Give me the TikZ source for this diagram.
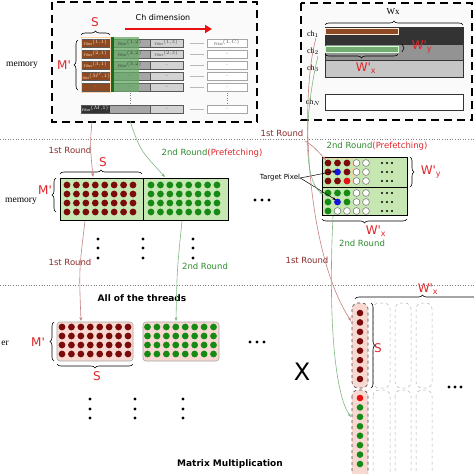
\documentclass[tikz,border=0pt]{standalone}
\usepackage{fontspec}
\setmainfont{Liberation Serif}
\setsansfont{DejaVu Sans}
\usetikzlibrary{decorations.pathreplacing,arrows.meta,calc}
\definecolor{dred}{HTML}{7B0A0A}
\definecolor{dgreen}{HTML}{158A15}
\definecolor{lgfill}{HTML}{C6E6B2}
\definecolor{pinkfill}{HTML}{F7D9D2}
\definecolor{lblred}{HTML}{E0252A}
\definecolor{rtxtc}{HTML}{8A2A2A}
\definecolor{gtxtc}{HTML}{2E8B2E}
\definecolor{brownc}{HTML}{8E4A22}
\definecolor{redline}{HTML}{C58080}
\definecolor{greenline}{HTML}{80B880}
\definecolor{brightred}{HTML}{E81010}
\definecolor{bluedot}{HTML}{1414E0}
\newcommand{\pr}{\textquotesingle}
\begin{document}
\begin{tikzpicture}[x=1pt,y=-1pt,
 dbox/.style={draw=black, line width=2.4pt, dash pattern=on 8pt off 5pt},
 brc/.style={decorate, decoration={brace, amplitude=4pt}, draw=black, line width=0.6pt},
 lbl/.style={text=lblred, font=\sffamily\fontsize{12}{12}\selectfont, inner sep=0pt},
 rtxt/.style={text=rtxtc, font=\sffamily\fontsize{8.5}{9}\selectfont, inner sep=0pt},
 gtxt/.style={text=gtxtc, font=\sffamily\fontsize{8.5}{9}\selectfont, inner sep=0pt},
 serif/.style={font=\rmfamily\fontsize{9.5}{10}\selectfont, inner sep=0pt},
 chl/.style={font=\rmfamily\fontsize{8}{9}\selectfont, inner sep=0pt},
 boldt/.style={font=\sffamily\bfseries\fontsize{9}{10}\selectfont, inner sep=0pt},
 rconn/.style={draw=redline, line width=0.6pt, -{Stealth[length=4pt,width=3pt]}},
 gconn/.style={draw=greenline, line width=0.6pt, -{Stealth[length=4pt,width=3pt]}},
 kconn/.style={draw=black, line width=0.5pt, -{Stealth[length=3.5pt,width=2.5pt]}},
 cell/.style={draw=black!65, line width=0.4pt},
 tinyt/.style={font=\rmfamily\fontsize{4}{4}\selectfont, inner sep=0pt},
 gcaps/.style={draw=gray!60, dashed, line width=0.5pt, rounded corners=6pt},
 rcaps/.style={draw=black!70, dashed, line width=0.6pt, fill=pinkfill, rounded corners=6pt},
 sep/.style={draw=gray, dotted, line width=0.6pt}
]
\useasboundingbox (0,0) rectangle (474,474);
\fill[white] (0,0) rectangle (474,474);

% ---------------- top left box -----------------
\draw[dbox, fill=gray!4] (52,2) rectangle (257,122);
\node[serif] (mem1) at (22,65) {memory};
\node[lbl] (s1) at (95,22) {S};
\draw[brc] (81,35) -- (110,35);
\node[lbl] (m1) at (64,65) {M\pr};
\draw[brc] (78,90) -- (78,40);
\node[font=\sffamily\fontsize{8}{9}\selectfont, inner sep=0pt] (chdim) at (163,18) {Ch dimension};
\coordinate (cha) at (125,29);
\coordinate (chb) at (212,29);
\draw[brightred, line width=2pt, -{Triangle[length=7pt,width=8pt]}] (cha) -- (chb);

\foreach \t/\ta/\tb/\tc/\td in {39/{Filter$^{(1,1)}$}/{Filter$^{(1,2)}$}/{Filter$^{(1,3)}$}/{Filter$^{(1,C)}$},
 50/{Filter$^{(2,1)}$}/{Filter$^{(2,2)}$}/{Filter$^{(2,3)}$}/{--},
 61/{Filter$^{(3,1)}$}/{Filter$^{(3,2)}$}/{--}/{--},
 72/{Filter$^{(M',1)}$}/{--}/{--}/{--},
 83/{--}/{--}/{--}/{--}} {
  \fill[brownc] (81,\t) rectangle (110,{\t+8});
  \fill[gray!70] (110,\t) rectangle (150,{\t+8});
  \fill[gray!35] (150,\t) rectangle (183,{\t+8});
  \draw[cell] (81,\t) rectangle (183,{\t+8});
  \draw[cell] (150,\t) -- (150,{\t+8});
  \draw[gray!55, line width=0.7pt] (190,{\t+4}) -- (204,{\t+4});
  \draw[gray!70, line width=0.5pt, fill=white] (207,\t) rectangle (247,{\t+8});
  \node[tinyt, text=orange!25] at (95.5,{\t+4}) {\ta};
  \node[tinyt, text=black!70] at (166.5,{\t+4}) {\tc};
  \node[tinyt, text=black!70] at (227,{\t+4}) {\td};
}
% green overlay
\fill[green!45!black!60, opacity=0.75] (110,37) rectangle (139,92);
\fill[green!35!black!90] (110,37) rectangle (114,92);
\draw[orange!35, line width=0.7pt] (81,37) rectangle (110,92);
\foreach \t/\tb in {39/{Filter$^{(1,2)}$},50/{Filter$^{(2,2)}$},61/{Filter$^{(3,2)}$},72/{--},83/{--}}
  \node[tinyt, text=black!75] at (130,{\t+4}) {\tb};
% bottom row
\fill[black!80] (81,105) rectangle (110,113);
\fill[gray!70] (110,105) rectangle (150,113);
\fill[gray!35] (150,105) rectangle (183,113);
\draw[cell] (81,105) rectangle (183,113);
\draw[cell] (150,105) -- (150,113);
\draw[gray!55, line width=0.7pt] (190,109) -- (204,109);
\draw[gray!70, line width=0.5pt, fill=white] (207,105) rectangle (247,113);
\node[tinyt, text=white] at (95.5,109) {Filter$^{(M,1)}$};
\node[tinyt, text=black!70] at (130,109) {--};
\node[tinyt, text=black!70] at (166.5,109) {--};
\node[tinyt, text=black!70] at (227,109) {--};
\draw[gray, dotted] (130,93) -- (130,104);
\draw[gray, dotted] (227,93) -- (227,104);

% ---------------- top right box -----------------
\draw[dbox, fill=gray!4] (301,3) rectangle (472,120);
\node[chl, font=\rmfamily\fontsize{9}{10}\selectfont] (wx) at (393,12) {Wx};
\draw[brc] (325,25) -- (463,25);
\draw[black!80, fill=black!80] (325,27) rectangle (463,44);
\draw[orange!15, line width=0.6pt, fill=brownc] (325,28) rectangle (398,34);
\draw[black!80, fill=gray!85] (325,44) rectangle (463,60);
\draw[green!15, line width=0.6pt, fill=green!40!black!55] (325,46) rectangle (398,52);
\draw[black!80, fill=gray!45] (325,60) rectangle (463,77);
\draw[black!80, fill=white] (325,94) rectangle (463,110);
\node[chl] (ch1) at (313,34) {ch$_1$};
\node[chl] (ch2) at (313,51) {ch$_2$};
\node[chl] (ch3) at (313,68) {ch$_3$};
\node[chl] (chN) at (313,102) {ch$_N$};
\draw[brc] (398,54) -- (325,54);
\node[lbl] (wxp1) at (366,68) {W\pr$_{\mathsf{x}}$};
\draw[brc, decoration={brace,amplitude=2pt}] (402,44) -- (402,52);
\node[lbl] (wyp1) at (422,47) {W\pr$_{\mathsf{y}}$};

% separators
\draw[sep] (0,139) -- (474,139);
\draw[sep] (0,285) -- (474,285);

% ---------------- middle left -----------------
\node[rtxt] (r1a) at (70,150) {1st Round};
\node[gtxt] (g1a) at (212,153) {2nd Round\textcolor{lblred}{(Prefetching)}};
\node[lbl] (s2) at (103,162) {S};
\draw[brc] (60,174) -- (142,174);
\node[lbl] (m2) at (45,190) {M\pr};
\draw[brc] (56,212) -- (56,178);
\node[serif] (mem2) at (21,201) {memory};
\draw[black, line width=0.9pt, fill=lgfill] (60,178) rectangle (228,220);
\draw[black, line width=0.9pt] (143,178) -- (143,220);
\foreach \i in {0,...,7} \foreach \j in {0,...,3} {
  \fill[dred] ({67+9.43*\i},{185+9*\j}) circle (3.4);
  \fill[dgreen] ({151+9.43*\i},{185+9*\j}) circle (3.4);
}
\foreach \x in {98,143,193} \foreach \y in {239,248,258} \fill (\x,\y) circle (1.6);
\node[rtxt] (r1b) at (70,262) {1st Round};
\node[gtxt] (g1b) at (205,266) {2nd Round};

% ---------------- middle right -----------------
\node[rtxt] (r1c) at (282,133) {1st Round};
\node[gtxt] (g1c) at (377,146) {2nd Round\textcolor{lblred}{(Prefetching)}};
\foreach \x in {255,262,269} \fill (\x,200) circle (1.6);
\draw[black, line width=0.9pt, fill=lgfill] (322,157) rectangle (407,215);
\draw[black, line width=0.9pt] (322,187) -- (407,187);
\draw[orange!40, dashed, line width=0.4pt] (323,158) rectangle (352,186);
\foreach \c [count=\k from 0] in {dred,dred,dred,white,white} \fill[\c] ({328+9.5*\k},163) circle (3.4);
\foreach \c [count=\k from 0] in {dred,bluedot,dred,white,white} \fill[\c] ({328+9.5*\k},172) circle (3.4);
\foreach \c [count=\k from 0] in {dred,dred,brightred,white,white} \fill[\c] ({328+9.5*\k},181) circle (3.4);
\foreach \c [count=\k from 0] in {dgreen,dgreen,dgreen,white,white} \fill[\c] ({328+9.5*\k},193) circle (3.4);
\foreach \c [count=\k from 0] in {dgreen,bluedot,dgreen,white,white} \fill[\c] ({328+9.5*\k},202) circle (3.4);
\foreach \c [count=\k from 0] in {dgreen,white,white,white,white} \fill[\c] ({328+9.5*\k},211) circle (3.4);
\foreach \y in {163,172,181,193,202,211} {
  \foreach \k in {3,4} \draw[black!60, line width=0.5pt] ({328+9.5*\k},\y) circle (3.4);
  \foreach \x in {382,387,392} \fill (\x,\y) circle (1.1);
}
\draw[black!60, line width=0.5pt] (337.5,211) circle (3.4);
\draw[black!60, line width=0.5pt] (347,211) circle (3.4);
\node[font=\sffamily\fontsize{7}{8}\selectfont, inner sep=0pt] (tp) at (280,178) {Target Pixel};
\coordinate (bd1) at (336,171);
\coordinate (bd2) at (336,200);
\draw[kconn] (tp.east) -- (bd1);
\draw[kconn] (tp.east) -- (bd2);
\draw[brc] (410,157) -- (410,187);
\node[lbl] (wyp2) at (431,172) {W\pr$_{\mathsf{y}}$};
\draw[brc] (407,219) -- (322,219);
\node[lbl] (wxp2) at (376,231) {W\pr$_{\mathsf{x}}$};
\node[gtxt] (g1d) at (362,243) {2nd Round};
\node[rtxt] (r1d) at (307,260) {1st Round};

% ---------------- bottom left -----------------
\node[boldt] (threads) at (142,298) {All of the threads};
\node[serif, anchor=east] (reg) at (9,343) {er};
\node[lbl] (m3) at (38,342) {M\pr};
\draw[brc] (54,361) -- (54,322);
\draw[gray!70, line width=0.6pt, fill=pinkfill, rounded corners=3pt] (57,322) rectangle (133,361);
\draw[gray!70, line width=0.6pt, fill=pinkfill, rounded corners=3pt] (143,322) rectangle (219,361);
\foreach \i in {0,...,7} \foreach \j in {0,...,3} {
  \fill[dred] ({62+9.43*\i},{327+9*\j}) circle (3.4);
  \fill[dgreen] ({147.5+9.43*\i},{327+9*\j}) circle (3.4);
}
\draw[brc] (133,364) -- (57,364);
\node[lbl] (s3) at (97,376) {S};
\foreach \x in {90,135,183} \foreach \y in {399,409,418} \fill (\x,\y) circle (1.6);
\node[boldt] (mm) at (230,464) {Matrix Multiplication};

% ---------------- bottom right -----------------
\foreach \x in {250,257,264} \fill (\x,342) circle (1.6);
\node[font=\sffamily\fontsize{24}{24}\selectfont, inner sep=0pt] (times) at (302,372) {X};
\node[lbl] (wxp3) at (428,289) {W\pr$_{\mathsf{x}}$};
\draw[brc] (355,299) -- (490,299);
\foreach \xa/\xb in {373/390,395/411,416/432} {
  \draw[gcaps] (\xa,303) rectangle (\xb,388);
  \draw[gcaps] (\xa,390) rectangle (\xb,482);
}
\draw[rcaps] (352,303) rectangle (368,388);
\draw[rcaps] (352,390) rectangle (368,482);
\foreach \k in {0,...,7} \fill[dred] (360,{313+9.43*\k}) circle (3.3);
\fill[brightred] (360,398) circle (3.3);
\foreach \k in {1,...,7} \fill[dgreen] (360,{398+9.43*\k}) circle (3.3);
\draw[brc] (371,303) -- (371,388);
\node[lbl] (s4) at (378,348) {S};
\foreach \x in {449,455,461} \fill (\x,387) circle (1.6);

% ---------------- connectors -----------------
\coordinate (tlr) at (92,121);
\coordinate (tlg) at (130,121);
\coordinate (mlr) at (93,177);
\coordinate (mlg) at (165,177);
\coordinate (mlrb) at (85,221);
\coordinate (mlgb) at (182,221);
\coordinate (blr) at (81,321);
\coordinate (blg) at (176,321);
\coordinate (trr) at (316,38);
\coordinate (trg) at (318,56);
\coordinate (brr) at (351,321);
\coordinate (brg) at (351,417);
\coordinate (mrr) at (326,160);
\coordinate (mrg) at (323,194);
\coordinate (mrb) at (333,216);
\coordinate (rbr) at (305,141);
\draw[rconn] (tlr) .. controls (90,145) .. (mlr);
\draw[gconn] (tlg) .. controls (140,150) .. (mlg);
\draw[rconn] (mlrb) .. controls (79,270) .. (blr);
\draw[gconn] (mlgb) .. controls (177,270) .. (blg);
\draw[rconn] (trr) .. controls (300,95) and (305,250) .. (brr);
\draw[rconn] (rbr) .. controls (313,146) .. (mrr);
\draw[gconn] (trg) .. controls (305,110) and (302,180) .. (mrg);
\draw[gconn] (mrb) .. controls (328,320) and (335,395) .. (brg);
\end{tikzpicture}
\end{document}
